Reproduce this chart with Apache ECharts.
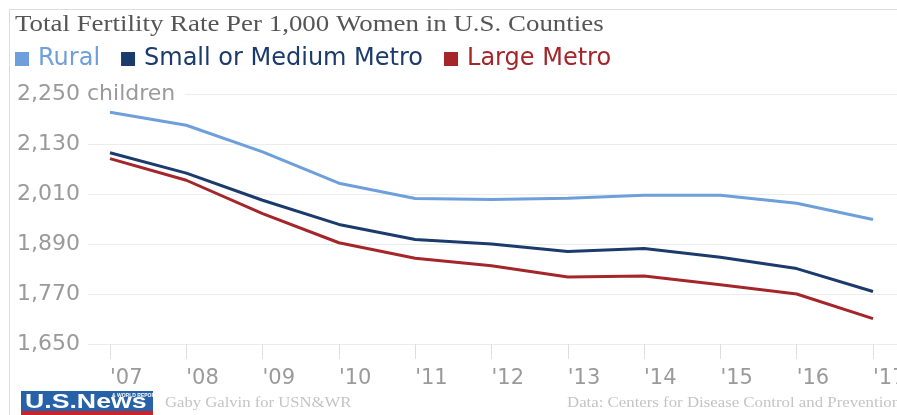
<!DOCTYPE html>
<html>
<head>
<meta charset="utf-8">
<script src="https://cdn.jsdelivr.net/npm/echarts@6/dist/echarts.min.js"></script>
<style>
  html, body { margin: 0; padding: 0; background: #fff; }
  #chart { width: 897px; height: 415px; }
</style>
</head>
<body>
<div id="chart"></div>
<script>
// Years shown on the horizontal axis
const years = ["'07", "'08", "'09", "'10", "'11", "'12", "'13", "'14", "'15", "'16", "'17"];

// Total fertility rate (births per 1,000 women) by county type
const rural       = [2206, 2175, 2111, 2036, 1999, 1997, 2000, 2007, 2007, 1988, 1949];
const smallMedium = [2109, 2060, 1995, 1937, 1901, 1890, 1872, 1879, 1858, 1831, 1776];
const largeMetro  = [2095, 2043, 1963, 1893, 1856, 1838, 1811, 1813, 1792, 1770, 1711];

// Value axis range and step
const yMin = 1650, yMax = 2250, yStep = 120;

const seriesNames  = ['Rural', 'Small or Medium Metro', 'Large Metro'];
const seriesColors = ['#6e9fdb', '#1b3b6c', '#a4262b'];
const seriesData   = [rural, smallMedium, largeMetro];

const SANS = '"DejaVu Sans", "Open Sans", sans-serif';
const SERIF = '"Liberation Serif", "DejaVu Serif", serif';

const chart = echarts.init(document.getElementById('chart'), null, { renderer: 'canvas' });

chart.setOption({
  backgroundColor: '#fff',
  animation: false,
  legend: {
    left: 10,
    top: 42,
    icon: 'rect',
    itemWidth: 14,
    itemHeight: 14,
    itemGap: 21,
    data: seriesNames.map((n, i) => ({
      name: n,
      textStyle: { color: seriesColors[i] }
    })),
    textStyle: { fontFamily: SANS, fontSize: 24, padding: [0, 0, 0, 4] }
  },
  grid: [
    // full-width grid carrying the horizontal rules and value labels
    { left: 88, right: 0, top: 94, bottom: 71, outerBoundsMode: 'none', containLabel: false },
    // grid holding the lines
    { left: 110, right: 24, top: 94, bottom: 71, outerBoundsMode: 'none', containLabel: false }
  ],
  xAxis: [
    { gridIndex: 0, type: 'category', data: years, show: false, boundaryGap: false },
    {
      gridIndex: 1,
      type: 'category',
      data: years,
      boundaryGap: false,
      axisLine: { show: false },
      axisTick: { show: true, length: 15, lineStyle: { color: '#dedede', width: 1 } },
      axisLabel: {
        color: '#9a9a9a',
        fontFamily: SANS,
        fontSize: 21,
        margin: 24,
        align: 'left',
        showMaxLabel: true
      },
      splitLine: { show: false }
    }
  ],
  yAxis: [
    {
      gridIndex: 0,
      type: 'value',
      min: yMin,
      max: yMax,
      interval: yStep,
      axisLine: { show: false },
      axisTick: { show: false },
      splitLine: { lineStyle: { color: '#ececec', width: 1 } },
      axisLabel: {
        align: 'left',
        margin: 71,
        color: '#9a9a9a',
        fontFamily: SANS,
        fontSize: 22,
        formatter: function (v) {
          const s = v.toLocaleString('en-US');
          return v === yMax ? '{top|' + s + ' children}' : s;
        },
        rich: {
          top: {
            color: '#9a9a9a',
            fontFamily: SANS,
            fontSize: 22,
            backgroundColor: '#fff',
            padding: [0, 10, 0, 0]
          }
        }
      }
    },
    {
      gridIndex: 1,
      type: 'value',
      min: yMin,
      max: yMax,
      interval: yStep,
      show: false,
      splitLine: { show: false }
    }
  ],
  series: seriesData.map((d, i) => ({
    name: seriesNames[i],
    type: 'line',
    xAxisIndex: 1,
    yAxisIndex: 1,
    data: d,
    symbol: 'none',
    color: seriesColors[i],
    lineStyle: { width: 3, color: seriesColors[i] }
  })),
  graphic: [
    // frame
    {
      type: 'rect',
      shape: { x: 9.5, y: 9.5, width: 1000, height: 500 },
      style: { fill: null, stroke: '#dcdcdc', lineWidth: 1 },
      silent: true, z: -1
    },
    {
      type: 'text',
      x: 15,
      y: 13,
      scaleX: 1.17,
      style: {
        text: 'Total Fertility Rate Per 1,000 Women in U.S. Counties',
        font: '23px ' + SERIF,
        fill: '#555'
      }
    },
    // publisher mark
    {
      type: 'rect',
      shape: { x: 21, y: 391, width: 132, height: 21 },
      style: { fill: '#2762a9' }
    },
    {
      type: 'rect',
      shape: { x: 21, y: 411, width: 132, height: 4 },
      style: { fill: '#c8242c' }
    },
    {
      type: 'text',
      x: 25,
      y: 413,
      scaleX: 1.27,
      style: {
        text: 'U.S.News',
        font: 'bold 21px "Liberation Sans", Arial, sans-serif',
        fill: '#fff',
        textVerticalAlign: 'bottom'
      }
    },
    {
      type: 'text',
      x: 112,
      y: 393,
      style: {
        text: '& WORLD REPORT',
        font: 'bold 5px "Liberation Sans", Arial, sans-serif',
        fill: '#fff'
      }
    },
    {
      type: 'text',
      x: 165,
      y: 396,
      scaleX: 1.11,
      style: { text: 'Gaby Galvin for USN&WR', font: '15px ' + SERIF, fill: '#c4c4c4' }
    },
    {
      type: 'text',
      x: 567,
      y: 396,
      scaleX: 1.12,
      style: { text: 'Data: Centers for Disease Control and Prevention', font: '15px ' + SERIF, fill: '#c4c4c4' }
    }
  ]
});
</script>
</body>
</html>
